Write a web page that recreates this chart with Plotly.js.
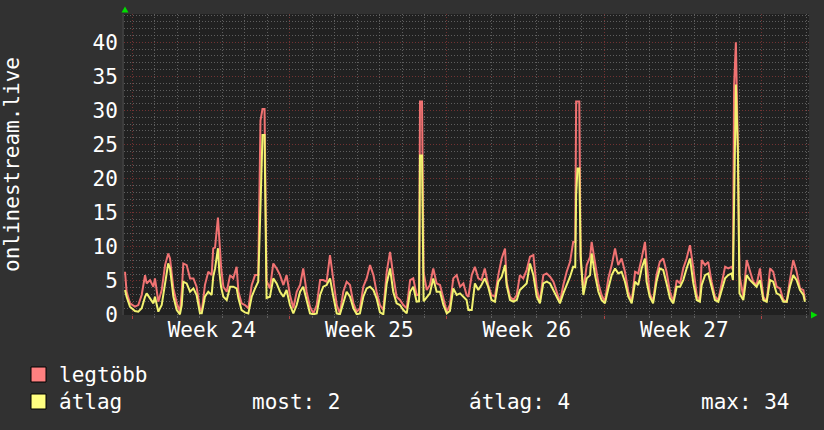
<!DOCTYPE html>
<html><head><meta charset="utf-8">
<script src="https://cdn.plot.ly/plotly-3.0.1.min.js"></script>
<style>html,body{margin:0;padding:0;background:#313131;}</style>
</head><body><div id="chart" style="width:824px;height:430px;"></div>
<script>
// time in days since Monday 00:00 of week 24
const days = [-0.31,-0.24,-0.09,0.13,0.28,0.43,0.58,0.65,0.80,0.95,1.02,1.17,1.32,1.47,1.61,1.69,1.84,1.99,2.13,2.21,2.28,2.43,2.58,2.73,2.87,3.02,3.10,3.24,3.39,3.54,3.61,3.69,3.82,3.88,3.96,4.06,4.21,4.36,4.50,4.65,4.73,4.87,5.02,5.17,5.32,5.47,5.61,5.71,5.80,5.89,5.98,6.13,6.28,6.43,6.58,6.73,6.87,7.02,7.17,7.32,7.47,7.61,7.76,7.91,8.06,8.21,8.36,8.50,8.65,8.80,8.95,9.10,9.24,9.39,9.54,9.69,9.84,9.99,10.13,10.28,10.43,10.58,10.73,10.87,11.02,11.17,11.32,11.47,11.61,11.76,11.91,12.06,12.21,12.36,12.50,12.65,12.76,12.80,12.89,12.96,13.10,13.24,13.39,13.54,13.69,13.84,13.99,14.13,14.28,14.43,14.58,14.73,14.87,14.95,15.10,15.24,15.39,15.53,15.68,15.83,15.98,16.13,16.28,16.43,16.58,16.65,16.80,16.95,17.10,17.24,17.39,17.54,17.69,17.84,17.99,18.13,18.28,18.43,18.58,18.73,18.87,19.02,19.17,19.32,19.47,19.61,19.70,19.74,19.80,19.88,19.94,20.06,20.21,20.36,20.43,20.58,20.73,20.87,21.02,21.17,21.32,21.47,21.61,21.76,21.91,22.06,22.21,22.36,22.50,22.65,22.80,22.87,23.01,23.16,23.31,23.46,23.61,23.76,23.91,24.06,24.21,24.36,24.50,24.65,24.80,24.95,25.10,25.24,25.32,25.47,25.61,25.76,25.91,26.06,26.21,26.36,26.50,26.65,26.71,26.76,26.84,26.93,27.00,27.17,27.32,27.47,27.61,27.76,27.91,28.06,28.21,28.36,28.50,28.65,28.80,28.95,29.10,29.24,29.39,29.54,29.69,29.84,29.91];
const legtobb = [6.34,3.41,1.71,1.22,1.46,2.93,5.85,4.63,5.12,4.15,5.37,1.95,3.66,7.32,9.02,8.29,3.90,1.71,0.49,3.41,7.56,7.32,5.37,5.37,4.15,0.98,0.49,4.39,6.34,5.85,9.76,9.9,14.3,10.2,7.0,4.15,3.41,5.85,5.37,7.07,3.41,1.71,1.46,0.98,4.39,5.85,5.85,28.5,30.2,30.2,5.0,3.90,7.56,6.83,5.85,4.39,5.85,2.93,0.98,3.41,4.39,6.83,3.41,1.22,0.24,1.46,5.12,5.12,4.88,8.78,4.88,1.46,0.24,3.41,4.88,4.39,1.71,0.49,0.98,4.15,5.37,7.32,5.85,3.41,1.46,0.73,6.34,9.27,5.85,2.68,2.20,1.46,0.98,5.12,5.37,2.93,3.0,31.3,31.3,6.3,3.66,4.39,6.83,4.63,4.39,2.44,0.49,1.46,5.37,5.85,4.15,4.63,2.93,2.68,5.85,7.07,5.37,5.12,6.83,4.39,2.93,2.68,5.85,8.29,9.76,4.88,2.68,2.20,2.93,5.85,5.37,6.59,8.54,8.78,3.90,1.95,5.85,6.10,5.61,4.88,3.41,1.95,4.39,6.34,7.80,10.73,10.7,31.3,31.3,31.3,8.0,3.41,7.32,8.54,10.73,7.56,4.63,2.93,1.95,5.37,7.32,9.76,7.32,8.29,6.34,3.41,1.95,6.34,6.10,8.29,10.73,7.80,3.17,1.95,5.85,7.80,8.29,6.34,3.41,1.95,5.12,4.63,6.83,8.29,10.24,6.83,2.93,1.95,8.05,7.32,7.80,4.88,2.68,2.20,4.88,7.07,6.83,7.07,6.59,33.5,40.0,24.2,5.85,2.68,8.05,6.34,4.88,4.39,6.83,2.68,1.95,6.83,6.34,4.15,3.90,2.20,1.95,5.12,8.05,6.34,3.90,3.66,2.20];
const atlag = [3.66,2.68,1.22,0.59,0.49,0.98,2.68,3.17,2.44,1.71,2.68,0.49,1.46,4.39,7.56,6.83,2.68,0.73,0.10,1.46,4.88,4.63,3.41,3.90,2.93,0.24,0.24,2.68,3.41,2.93,5.61,6.8,9.8,6.34,4.1,2.68,2.20,4.15,4.15,3.90,2.44,0.73,0.39,0.24,2.68,3.90,4.88,15.9,26.4,26.4,2.5,2.68,5.37,4.63,3.41,2.68,3.66,1.46,0.24,1.46,3.41,4.15,1.95,0.24,0.10,0.24,2.93,4.15,4.39,5.37,2.68,0.24,0.10,1.95,3.41,2.68,0.98,0.10,0.24,2.68,3.90,4.15,3.66,2.44,0.39,0.10,4.63,6.83,3.41,1.71,1.46,0.73,0.24,3.41,4.15,1.95,2.0,23.4,23.4,2.0,2.68,3.17,5.37,3.41,3.41,1.46,0.24,0.59,3.90,2.93,3.17,2.68,2.20,0.73,0.73,4.63,3.66,4.39,5.37,4.15,2.20,1.95,4.88,5.61,7.32,4.39,2.20,1.95,2.20,3.66,4.15,4.63,7.56,5.85,2.68,1.71,4.63,4.88,4.63,3.66,2.68,1.71,3.17,4.39,5.61,7.07,7.0,17.6,21.5,21.5,8.8,2.93,5.37,5.85,9.02,5.85,3.41,2.20,1.71,3.90,5.85,6.83,6.10,6.34,4.88,2.68,1.71,4.88,4.39,6.83,8.29,4.88,2.68,1.71,4.88,6.83,6.59,4.63,2.44,1.71,4.15,4.15,5.12,6.83,8.29,4.63,2.20,1.95,4.39,5.85,6.10,4.15,2.20,1.95,3.66,5.37,5.85,6.10,5.12,14.6,33.8,24.0,3.17,2.20,5.85,5.12,4.63,4.15,5.12,2.20,1.95,5.12,4.88,3.17,2.93,1.95,1.95,4.15,5.85,5.12,3.66,2.93,1.95];
const weekTickDays = [3.55, 10.55, 17.55, 24.55];
const weekLabels = ['Week 24', 'Week 25', 'Week 26', 'Week 27'];
const yTitle = 'onlinestream.live';
const seriesNames = ['legtöbb', 'átlag'];
const statLabels = ['most: 2', 'átlag: 4', 'max: 34'];

const FONT = 'DejaVu Sans Mono';
const L = 124, R = 809, T = 14, B = 315;
const px = v => (v - L) / (R - L);
const py = v => (B - v) / (B - T);
const xRange = [-0.356, 30.09];
const gridRed = 'rgba(135,55,55,0.8)';
const gridGrey = 'rgba(110,110,110,0.8)';
const dots = '1px,2px';

const traces = [
  {x: days, y: legtobb, name: seriesNames[0], type: 'scatter', mode: 'lines',
   xaxis: 'x', yaxis: 'y', line: {color: '#f07272', width: 2}, hoverinfo: 'skip'},
  {x: days, y: atlag, name: seriesNames[1], type: 'scatter', mode: 'lines',
   xaxis: 'x2', yaxis: 'y', line: {color: '#f2f270', width: 2}, hoverinfo: 'skip'}
];

const ann = [
  {text: seriesNames[0], x: px(57), y: py(375)},
  {text: seriesNames[1], x: px(57), y: py(402)},
  {text: statLabels[0], x: px(250), y: py(402)},
  {text: statLabels[1], x: px(467), y: py(402)},
  {text: statLabels[2], x: px(699), y: py(402)}
].map(a => Object.assign(a, {xref: 'paper', yref: 'paper', xanchor: 'left', yanchor: 'middle',
  showarrow: false, font: {family: FONT, size: 21, color: '#ffffff'}}));

const shapes = [
  {type: 'rect', xref: 'paper', yref: 'paper', x0: px(31), x1: px(46), y0: py(367), y1: py(382),
   fillcolor: '#ff8080', line: {color: '#000000', width: 1}},
  {type: 'rect', xref: 'paper', yref: 'paper', x0: px(31), x1: px(46), y0: py(394), y1: py(409),
   fillcolor: '#ffff80', line: {color: '#000000', width: 1}},
  {type: 'path', xref: 'paper', yref: 'paper',
   path: `M ${px(121.5)},${py(12.5)} L ${px(128.5)},${py(12.5)} L ${px(125)},${py(6.5)} Z`,
   fillcolor: '#00dd00', line: {width: 0}},
  {type: 'path', xref: 'paper', yref: 'paper',
   path: `M ${px(811)},${py(311.5)} L ${px(811)},${py(318.5)} L ${px(817.5)},${py(315)} Z`,
   fillcolor: '#00dd00', line: {width: 0}}
];

const layout = {
  width: 824, height: 430,
  paper_bgcolor: '#313131', plot_bgcolor: '#212121',
  margin: {l: L, r: 824 - R, t: T, b: 430 - B, pad: 0},
  showlegend: false,
  font: {family: FONT, size: 21, color: '#ffffff'},
  xaxis: {range: xRange, tickmode: 'array', tickvals: weekTickDays, ticktext: weekLabels,
    showgrid: false, zeroline: false, ticks: '', showline: false, fixedrange: true,
    tickfont: {family: FONT, size: 21, color: '#ffffff'}},
  xaxis2: {overlaying: 'x', anchor: 'y', side: 'bottom', range: xRange, tickmode: 'linear', tick0: 0, dtick: 7,
    showgrid: true, gridcolor: gridRed, griddash: dots, gridwidth: 1, showticklabels: false,
    ticks: 'outside', ticklen: 3, tickcolor: '#b04444', zeroline: false, fixedrange: true,
    minor: {tick0: 0, dtick: 1, showgrid: true, gridcolor: gridGrey, griddash: dots, gridwidth: 1,
      ticks: 'outside', ticklen: 2, tickcolor: '#606060'}},
  yaxis: {range: [0, 44.15], tickmode: 'linear', tick0: 0, dtick: 5,
    showgrid: true, gridcolor: gridRed, griddash: dots, gridwidth: 1, zeroline: false,
    showline: true, linecolor: '#3c3c3c', linewidth: 2, ticks: '', fixedrange: true,
    tickfont: {family: FONT, size: 21, color: '#ffffff'},
    minor: {tick0: 0, dtick: 1, showgrid: true, gridcolor: gridGrey, griddash: dots, gridwidth: 1},
    title: {text: yTitle, font: {family: FONT, size: 21, color: '#ffffff'}, standoff: 68}},
  annotations: ann,
  shapes: shapes
};

Plotly.newPlot('chart', traces, layout, {displayModeBar: false, staticPlot: true});
</script>
</body></html>
